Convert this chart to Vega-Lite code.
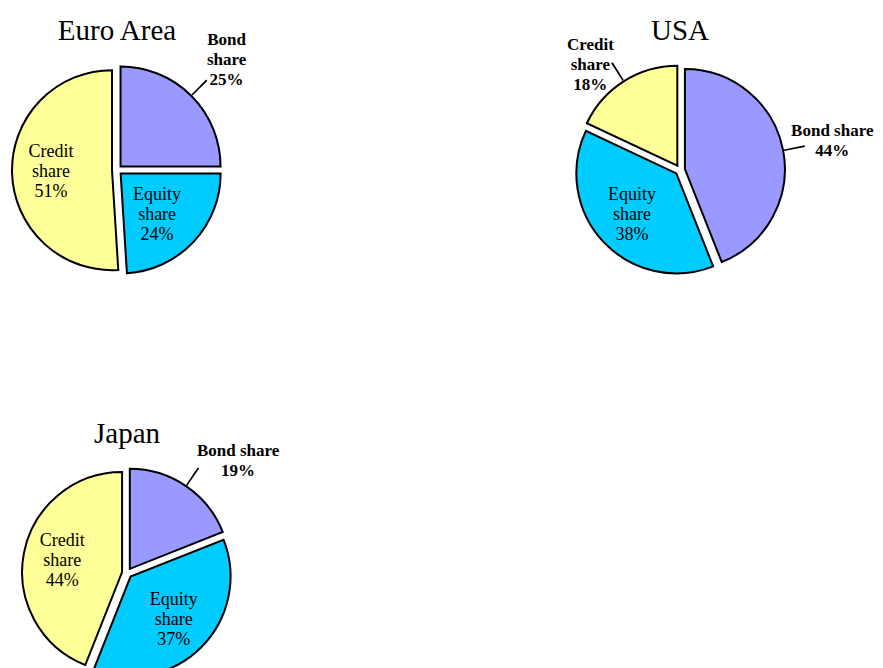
{
  "$schema": "https://vega.github.io/schema/vega-lite/v6.json",
  "padding": {"top": 5, "left": 0, "right": 0, "bottom": 0},
  "background": "white",
  "bounds": "flush",
  "data": {"values": [
    {"country": "Euro Area", "category": "Bond share", "value": 25},
    {"country": "Euro Area", "category": "Equity share", "value": 24},
    {"country": "Euro Area", "category": "Credit share", "value": 51},
    {"country": "USA", "category": "Bond share", "value": 44},
    {"country": "USA", "category": "Equity share", "value": 38},
    {"country": "USA", "category": "Credit share", "value": 18},
    {"country": "Japan", "category": "Bond share", "value": 19},
    {"country": "Japan", "category": "Equity share", "value": 37},
    {"country": "Japan", "category": "Credit share", "value": 44}
  ]},
  "transform": [
    {"calculate": "indexof(['Bond share','Equity share','Credit share'], datum.category)", "as": "idx"},
    {"window": [{"op": "sum", "field": "value", "as": "end"}], "groupby": ["country"], "sort": [{"field": "idx"}], "frame": [null, 0]},
    {"calculate": "datum.end - datum.value", "as": "start"},
    {"calculate": "datum.end - datum.value / 2", "as": "mid"},
    {"calculate": "datum.mid - 0.12", "as": "lo"},
    {"calculate": "datum.mid + 0.12", "as": "hi"},
    {"calculate": "datum.category == 'Bond share' || (datum.country == 'USA' && datum.category == 'Credit share')", "as": "outside"},
    {"calculate": "(datum.outside && datum.country != 'Euro Area' && datum.category == 'Bond share') ? [datum.category, datum.value + '%'] : [split(datum.category, ' ')[0], split(datum.category, ' ')[1], datum.value + '%']", "as": "label"}
  ],
  "columns": 2,
  "spacing": {"row": 73, "column": 306},
  "concat": [
    {
      "title": {"text": "Euro Area", "dy": 43},
      "width": 234, "height": 330,
      "transform": [{"filter": "datum.country == 'Euro Area'"}],
      "layer": [
        {"mark": {"type": "arc", "outerRadius": 100, "stroke": "black", "strokeWidth": 2, "xOffset": {"expr": "5*sin(2*PI*datum.mid/100)"}, "yOffset": {"expr": "-5*cos(2*PI*datum.mid/100)"}},
         "encoding": {"theta": {"field": "start", "type": "quantitative", "stack": null, "scale": {"domain": [0, 100]}}, "theta2": {"field": "end"},
           "color": {"field": "category", "type": "nominal", "scale": {"domain": ["Bond share", "Equity share", "Credit share"], "range": ["#9999FF", "#00CCFF", "#FFFF99"]}, "legend": null}}},
        {"transform": [{"filter": "datum.outside"}],
         "mark": {"type": "arc", "innerRadius": 101, "outerRadius": 122, "fill": "black", "xOffset": {"expr": "5*sin(2*PI*datum.mid/100)"}, "yOffset": {"expr": "-5*cos(2*PI*datum.mid/100)"}},
         "encoding": {"theta": {"field": "lo", "type": "quantitative", "stack": null, "scale": {"domain": [0, 100]}}, "theta2": {"field": "hi"}}},
        {"transform": [{"filter": "!datum.outside"}],
         "mark": {"type": "text", "radius": 66, "font": "Liberation Serif", "fontSize": 18, "lineHeight": 20, "align": "center", "baseline": "middle", "color": "black", "dx": {"expr": "datum.category == 'Equity share' ? -8 : 0"}, "dy": {"expr": "-10*(length(datum.label)-1)"}},
         "encoding": {"theta": {"field": "mid", "type": "quantitative", "stack": null, "scale": {"domain": [0, 100]}}, "text": {"field": "label"}}},
        {"transform": [{"filter": "datum.outside"}],
         "mark": {"type": "text", "radius": 155, "font": "Liberation Serif", "fontSize": 17, "fontWeight": "bold", "lineHeight": 20, "align": "center", "baseline": "middle", "color": "black", "dy": {"expr": "-10*(length(datum.label)-1)"}},
         "encoding": {"theta": {"field": "mid", "type": "quantitative", "stack": null, "scale": {"domain": [0, 100]}}, "text": {"field": "label"}}}
      ]
    },
    {
      "title": {"text": "USA", "dy": 43},
      "width": 240, "height": 330,
      "transform": [{"filter": "datum.country == 'USA'"}],
      "layer": [
        {"mark": {"type": "arc", "outerRadius": 100, "stroke": "black", "strokeWidth": 2, "xOffset": {"expr": "5*sin(2*PI*datum.mid/100)"}, "yOffset": {"expr": "-5*cos(2*PI*datum.mid/100)"}},
         "encoding": {"theta": {"field": "start", "type": "quantitative", "stack": null, "scale": {"domain": [0, 100]}}, "theta2": {"field": "end"},
           "color": {"field": "category", "type": "nominal", "scale": {"domain": ["Bond share", "Equity share", "Credit share"], "range": ["#9999FF", "#00CCFF", "#FFFF99"]}, "legend": null}}},
        {"transform": [{"filter": "datum.outside"}],
         "mark": {"type": "arc", "innerRadius": 101, "outerRadius": 122, "fill": "black", "xOffset": {"expr": "5*sin(2*PI*datum.mid/100)"}, "yOffset": {"expr": "-5*cos(2*PI*datum.mid/100)"}},
         "encoding": {"theta": {"field": "lo", "type": "quantitative", "stack": null, "scale": {"domain": [0, 100]}}, "theta2": {"field": "hi"}}},
        {"transform": [{"filter": "!datum.outside"}],
         "mark": {"type": "text", "radius": 66, "font": "Liberation Serif", "fontSize": 18, "lineHeight": 20, "align": "center", "baseline": "middle", "color": "black", "dy": {"expr": "-10*(length(datum.label)-1)"}},
         "encoding": {"theta": {"field": "mid", "type": "quantitative", "stack": null, "scale": {"domain": [0, 100]}}, "text": {"field": "label"}}},
        {"transform": [{"filter": "datum.outside"}],
         "mark": {"type": "text", "radius": {"expr": "datum.category == 'Credit share' ? 130 : 155"}, "font": "Liberation Serif", "fontSize": 17, "fontWeight": "bold", "lineHeight": 20, "align": "center", "baseline": "middle", "color": "black", "dx": {"expr": "datum.category == 'Credit share' ? -20 : 0"}, "dy": {"expr": "-10*(length(datum.label)-1) + (datum.category == 'Credit share' ? 5 : 0)"}},
         "encoding": {"theta": {"field": "mid", "type": "quantitative", "stack": null, "scale": {"domain": [0, 100]}}, "text": {"field": "label"}}}
      ]
    },
    {
      "title": {"text": "Japan", "dy": 43},
      "width": 254, "height": 330,
      "transform": [{"filter": "datum.country == 'Japan'"}],
      "layer": [
        {"mark": {"type": "arc", "outerRadius": 100, "stroke": "black", "strokeWidth": 2, "xOffset": {"expr": "5*sin(2*PI*datum.mid/100)"}, "yOffset": {"expr": "-5*cos(2*PI*datum.mid/100)"}},
         "encoding": {"theta": {"field": "start", "type": "quantitative", "stack": null, "scale": {"domain": [0, 100]}}, "theta2": {"field": "end"},
           "color": {"field": "category", "type": "nominal", "scale": {"domain": ["Bond share", "Equity share", "Credit share"], "range": ["#9999FF", "#00CCFF", "#FFFF99"]}, "legend": null}}},
        {"transform": [{"filter": "datum.outside"}],
         "mark": {"type": "arc", "innerRadius": 101, "outerRadius": 122, "fill": "black", "xOffset": {"expr": "5*sin(2*PI*datum.mid/100)"}, "yOffset": {"expr": "-5*cos(2*PI*datum.mid/100)"}},
         "encoding": {"theta": {"field": "lo", "type": "quantitative", "stack": null, "scale": {"domain": [0, 100]}}, "theta2": {"field": "hi"}}},
        {"transform": [{"filter": "!datum.outside"}],
         "mark": {"type": "text", "radius": 66, "font": "Liberation Serif", "fontSize": 18, "lineHeight": 20, "align": "center", "baseline": "middle", "color": "black", "dy": {"expr": "-10*(length(datum.label)-1)"}},
         "encoding": {"theta": {"field": "mid", "type": "quantitative", "stack": null, "scale": {"domain": [0, 100]}}, "text": {"field": "label"}}},
        {"transform": [{"filter": "datum.outside"}],
         "mark": {"type": "text", "radius": 155, "font": "Liberation Serif", "fontSize": 17, "fontWeight": "bold", "lineHeight": 20, "align": "center", "baseline": "middle", "color": "black", "dx": 24, "dy": {"expr": "-10*(length(datum.label)-1) + 16"}},
         "encoding": {"theta": {"field": "mid", "type": "quantitative", "stack": null, "scale": {"domain": [0, 100]}}, "text": {"field": "label"}}}
      ]
    }
  ],
  "config": {
    "view": {"stroke": null},
    "title": {"font": "Liberation Serif", "fontSize": 29, "fontWeight": "normal", "color": "black", "offset": 2, "anchor": "middle"}
  }
}
